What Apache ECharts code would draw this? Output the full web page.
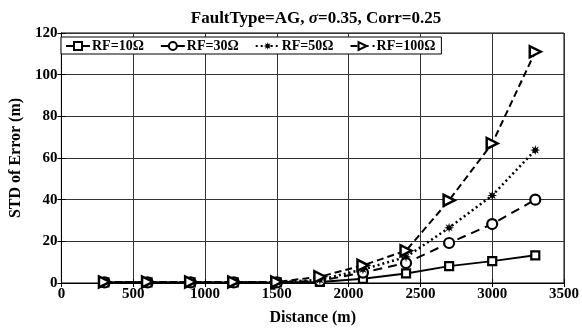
<!DOCTYPE html>
<html>
<head>
<meta charset="utf-8">
<script src="https://cdn.jsdelivr.net/npm/echarts@6/dist/echarts.min.js"></script>
<style>
  html, body { margin: 0; padding: 0; background: #fff; }
  #chart { width: 582px; height: 331px; }
</style>
</head>
<body>
<div id="chart"></div>
<script>
// distances (m)
var distance = [300, 600, 900, 1200, 1500, 1800, 2100, 2400, 2700, 3000, 3300];
// STD of error (m) per fault resistance
var rf10  = [0.3, 0.3, 0.3, 0.3, 0.3, 0.5, 2.0, 4.6, 8.1, 10.5, 13.3];
var rf30  = [0.3, 0.3, 0.3, 0.3, 0.3, 1.0, 5.0, 9.6, 19.2, 28.3, 40.0];
var rf50  = [0.4, 0.4, 0.4, 0.4, 0.4, 1.5, 6.5, 12.5, 26.5, 42.0, 63.8];
var rf100 = [0.5, 0.5, 0.5, 0.5, 0.5, 3.0, 8.5, 15.5, 39.7, 67.0, 111.0];
var seriesNames = ['RF=10\u03a9', 'RF=30\u03a9', 'RF=50\u03a9', 'RF=100\u03a9'];

function pairs(vals) {
  return distance.map(function (d, i) { return [d, vals[i]]; });
}

// 8 point star for the RF=50 marker
function starPath() {
  var pts = [];
  for (var i = 0; i < 16; i++) {
    var a = Math.PI * i / 8;
    var r = i % 2 === 0 ? 10 : 4.5;
    pts.push((Math.sin(a) * r).toFixed(2) + ',' + (-Math.cos(a) * r).toFixed(2));
  }
  return 'path://M' + pts.join('L') + 'Z';
}

var font = '"Liberation Serif", "Times New Roman", serif';
var chart = echarts.init(document.getElementById('chart'));

var option = {
  animation: false,
  textStyle: { fontFamily: font },
  title: {
    text: '{a|FaultType=AG, }{i|\u03c3}{a|=0.35, Corr=0.25}',
    left: 311,
    textAlign: 'center',
    top: 5,
    textStyle: {
      rich: {
        a: { fontFamily: font, fontWeight: 'bold', fontSize: 17, color: '#000' },
        i: { fontFamily: font, fontWeight: 'bold', fontStyle: 'italic', fontSize: 17, color: '#000' }
      }
    }
  },
  legend: {
    left: 61,
    top: 37,
    padding: [2, 6, 1, 4],
    itemGap: 16,
    itemWidth: 24,
    itemHeight: 10,
    borderColor: '#000',
    borderWidth: 1,
    backgroundColor: '#fff',
    textStyle: { fontFamily: font, fontWeight: 'bold', fontSize: 14, color: '#000', padding: [0, 0, 0, -3] },
    data: seriesNames
  },
  grid: {
    left: 59,
    right: 15,
    top: 33,
    bottom: 47,
    show: true,
    borderColor: '#000',
    borderWidth: 1
  },
  xAxis: [{
    type: 'value',
    min: 0,
    max: 3500,
    interval: 500,
    name: 'Distance (m)',
    nameLocation: 'middle',
    nameGap: 27,
    nameTextStyle: { fontFamily: font, fontWeight: 'bold', fontSize: 16, color: '#000' },
    axisLine: { lineStyle: { color: '#000' } },
    axisTick: { inside: true, length: 4, lineStyle: { color: '#000' } },
    axisLabel: { fontFamily: font, fontWeight: 'bold', fontSize: 15, color: '#000', margin: 4,
      formatter: function (v) { return String(v); } },
    splitLine: { show: true, lineStyle: { color: '#333', width: 1 } }
  }, {
    type: 'value', position: 'top', min: 0, max: 3500, interval: 500,
    axisLine: { lineStyle: { color: '#000' } },
    axisTick: { inside: true, length: 4, lineStyle: { color: '#000' } },
    axisLabel: { show: false }, splitLine: { show: false }
  }],
  yAxis: [{
    type: 'value',
    min: 0,
    max: 120,
    interval: 20,
    name: 'STD of Error (m)',
    nameLocation: 'middle',
    nameGap: 34,
    nameTextStyle: { fontFamily: font, fontWeight: 'bold', fontSize: 16, color: '#000' },
    axisLine: { show: true, lineStyle: { color: '#000' } },
    axisTick: { show: true, inside: true, length: 4, lineStyle: { color: '#000' } },
    axisLabel: { fontFamily: font, fontWeight: 'bold', fontSize: 15, color: '#000', margin: 4 },
    splitLine: { show: true, lineStyle: { color: '#333', width: 1 } }
  }, {
    type: 'value', position: 'right', min: 0, max: 120, interval: 20,
    axisLine: { show: true, lineStyle: { color: '#000' } },
    axisTick: { show: true, inside: true, length: 4, lineStyle: { color: '#000' } },
    axisLabel: { show: false }, splitLine: { show: false }
  }],
  series: [
    {
      name: seriesNames[0], type: 'line', data: pairs(rf10),
      symbol: 'rect', symbolSize: 8, showAllSymbol: true,
      lineStyle: { color: '#000', width: 2, type: 'solid' },
      itemStyle: { color: '#fff', borderColor: '#000', borderWidth: 2.2 }
    },
    {
      name: seriesNames[1], type: 'line', data: pairs(rf30),
      symbol: 'circle', symbolSize: 10, showAllSymbol: true,
      lineStyle: { color: '#000', width: 2, type: [9, 6] },
      itemStyle: { color: '#fff', borderColor: '#000', borderWidth: 2.2 }
    },
    {
      name: seriesNames[2], type: 'line', data: pairs(rf50),
      symbol: starPath(), symbolSize: 10, showAllSymbol: true,
      lineStyle: { color: '#000', width: 2.5, type: [2, 3] },
      itemStyle: { color: '#000', borderColor: '#000', borderWidth: 0 }
    },
    {
      name: seriesNames[3], type: 'line', data: pairs(rf100),
      symbol: 'triangle', symbolRotate: -90, symbolSize: 11, showAllSymbol: true,
      lineStyle: { color: '#000', width: 2, type: [7, 4] },
      itemStyle: { color: '#fff', borderColor: '#000', borderWidth: 2.5 }
    }
  ]
};
chart.setOption(option);
</script>
</body>
</html>
